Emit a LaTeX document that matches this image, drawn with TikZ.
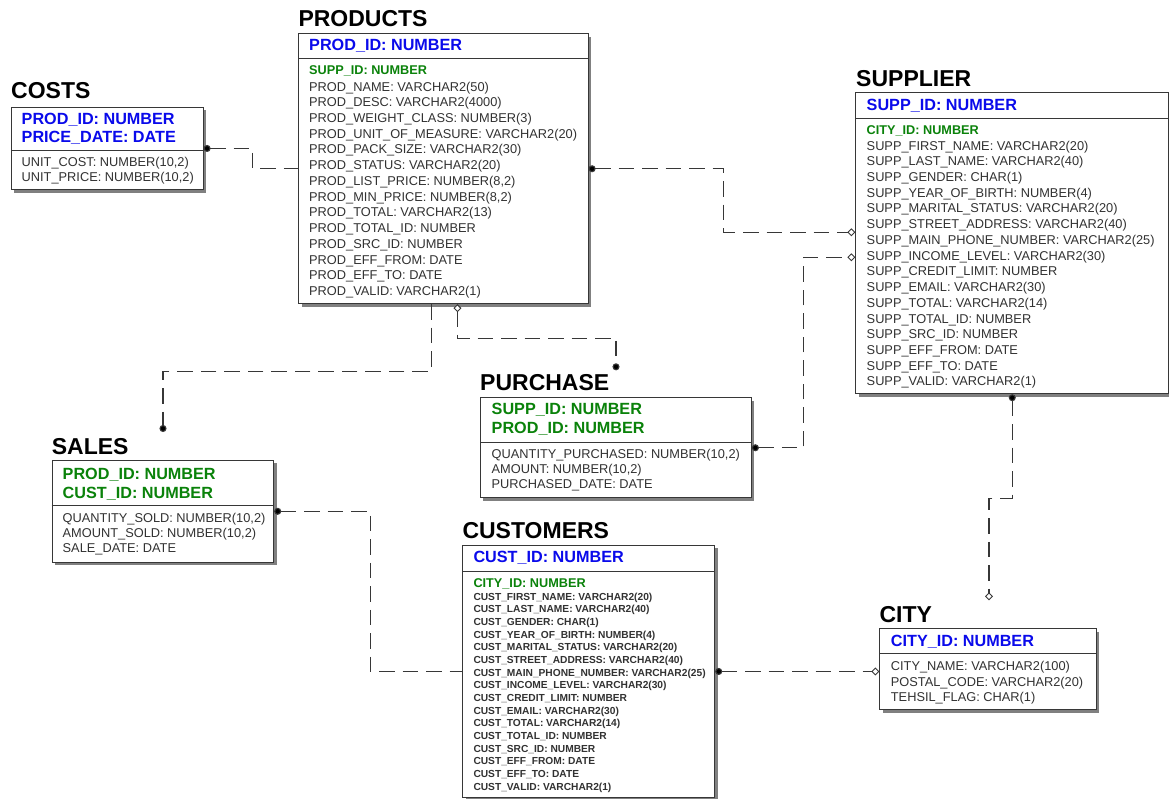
\documentclass[tikz,border=0pt]{standalone}
\usepackage{fontspec}
\setmainfont{Liberation Sans}
\usetikzlibrary{arrows.meta,shadows}

\definecolor{pkblue}{RGB}{10,10,235}
\definecolor{fkgreen}{RGB}{10,130,10}
\definecolor{attrgray}{RGB}{50,50,50}
\definecolor{edgegray}{RGB}{55,55,55}

\tikzset{
  title/.style={font=\fontsize{23}{23}\selectfont\bfseries, anchor=base west, inner sep=0pt},
  pk/.style={font=\fontsize{16.2}{16}\selectfont\bfseries, text=pkblue, anchor=base west, inner sep=0pt},
  fkpk/.style={pk, text=fkgreen},
  fk/.style={font=\fontsize{12.7}{13}\selectfont\bfseries, text=fkgreen, anchor=base west, inner sep=0pt},
  attr/.style={font=\fontsize{12.8}{13}\selectfont, text=attrgray, anchor=base west, inner sep=0pt},
  sattr/.style={font=\fontsize{10.2}{11}\selectfont\bfseries, text=attrgray, anchor=base west, inner sep=0pt},
  entity/.style={draw=edgegray, line width=0.9pt, fill=white, anchor=north west, inner sep=0pt,
    drop shadow={shadow xshift=3pt, shadow yshift=-3pt, fill=black!50, opacity=1}},
  divider/.style={draw=edgegray, line width=0.8pt},
  rel/.style={draw=edgegray, line width=1.1pt, dash pattern=on 15.5pt off 8pt},
  dot/.tip={Circle[length=7pt, fill=black]},
  dia/.tip={Diamond[open, length=8pt, width=8pt, fill=white, line width=0.9pt]}
}

\begin{document}
\begin{tikzpicture}[x=1pt,y=-1pt]
\useasboundingbox[fill=white] (0,0) rectangle (1169,798);

% ---------------- COSTS
\node[title] (costs-title) at (11,98.3) {COSTS};
\node[entity, minimum width=191.7pt, minimum height=82.6pt] (costs) at (11,106.7) {};
\draw[divider] ([yshift=-43.3pt]costs.north west) -- ([yshift=-43.3pt]costs.north east);
\node[pk] (costs-k1) at (21.5,124) {PROD\_ID: NUMBER};
\node[pk] (costs-k2) at (21.5,142.7) {PRICE\_DATE: DATE};
\foreach \t [count=\i from 0] in {{UNIT\_COST: NUMBER(10,2)},{UNIT\_PRICE: NUMBER(10,2)}}
  \node[attr] (costs-a\i) at (21.5,166+15.3*\i) {\t};

% ---------------- PRODUCTS
\node[title] (products-title) at (298.3,26.7) {PRODUCTS};
\node[entity, minimum width=289.4pt, minimum height=270pt] (products) at (298.3,33.3) {};
\draw[divider] ([yshift=-25pt]products.north west) -- ([yshift=-25pt]products.north east);
\node[pk] (products-k1) at (309,50.7) {PROD\_ID: NUMBER};
\node[fk] (products-f1) at (309,74) {SUPP\_ID: NUMBER};
\foreach \t [count=\i from 0] in {
  {PROD\_NAME: VARCHAR2(50)},
  {PROD\_DESC: VARCHAR2(4000)},
  {PROD\_WEIGHT\_CLASS: NUMBER(3)},
  {PROD\_UNIT\_OF\_MEASURE: VARCHAR2(20)},
  {PROD\_PACK\_SIZE: VARCHAR2(30)},
  {PROD\_STATUS: VARCHAR2(20)},
  {PROD\_LIST\_PRICE: NUMBER(8,2)},
  {PROD\_MIN\_PRICE: NUMBER(8,2)},
  {PROD\_TOTAL: VARCHAR2(13)},
  {PROD\_TOTAL\_ID: NUMBER},
  {PROD\_SRC\_ID: NUMBER},
  {PROD\_EFF\_FROM: DATE},
  {PROD\_EFF\_TO: DATE},
  {PROD\_VALID: VARCHAR2(1)}}
  \node[attr] (products-a\i) at (309,91+15.73*\i) {\t};

% ---------------- SUPPLIER
\node[title] (supplier-title) at (856,86.7) {SUPPLIER};
\node[entity, minimum width=313pt, minimum height=301pt] (supplier) at (855.3,92.3) {};
\draw[divider] ([yshift=-26pt]supplier.north west) -- ([yshift=-26pt]supplier.north east);
\node[pk] (supplier-k1) at (866.5,110.7) {SUPP\_ID: NUMBER};
\node[fk] (supplier-f1) at (866.5,134) {CITY\_ID: NUMBER};
\foreach \t [count=\i from 0] in {
  {SUPP\_FIRST\_NAME: VARCHAR2(20)},
  {SUPP\_LAST\_NAME: VARCHAR2(40)},
  {SUPP\_GENDER: CHAR(1)},
  {SUPP\_YEAR\_OF\_BIRTH: NUMBER(4)},
  {SUPP\_MARITAL\_STATUS: VARCHAR2(20)},
  {SUPP\_STREET\_ADDRESS: VARCHAR2(40)},
  {SUPP\_MAIN\_PHONE\_NUMBER: VARCHAR2(25)},
  {SUPP\_INCOME\_LEVEL: VARCHAR2(30)},
  {SUPP\_CREDIT\_LIMIT: NUMBER},
  {SUPP\_EMAIL: VARCHAR2(30)},
  {SUPP\_TOTAL: VARCHAR2(14)},
  {SUPP\_TOTAL\_ID: NUMBER},
  {SUPP\_SRC\_ID: NUMBER},
  {SUPP\_EFF\_FROM: DATE},
  {SUPP\_EFF\_TO: DATE},
  {SUPP\_VALID: VARCHAR2(1)}}
  \node[attr] (supplier-a\i) at (866.5,150+15.73*\i) {\t};

% ---------------- PURCHASE
\node[title] (purchase-title) at (480,390.7) {PURCHASE};
\node[entity, minimum width=271pt, minimum height=100pt] (purchase) at (480,397.3) {};
\draw[divider] ([yshift=-45pt]purchase.north west) -- ([yshift=-45pt]purchase.north east);
\node[fkpk] (purchase-k1) at (491.5,414) {SUPP\_ID: NUMBER};
\node[fkpk] (purchase-k2) at (491.5,433) {PROD\_ID: NUMBER};
\foreach \t [count=\i from 0] in {
  {QUANTITY\_PURCHASED: NUMBER(10,2)},
  {AMOUNT: NUMBER(10,2)},
  {PURCHASED\_DATE: DATE}}
  \node[attr] (purchase-a\i) at (491.5,458.3+15.2*\i) {\t};

% ---------------- SALES
\node[title] (sales-title) at (51.7,454.3) {SALES};
\node[entity, minimum width=221.6pt, minimum height=101.7pt] (sales) at (51.7,460) {};
\draw[divider] ([yshift=-45.7pt]sales.north west) -- ([yshift=-45.7pt]sales.north east);
\node[fkpk] (sales-k1) at (62.5,479.3) {PROD\_ID: NUMBER};
\node[fkpk] (sales-k2) at (62.5,498.3) {CUST\_ID: NUMBER};
\foreach \t [count=\i from 0] in {
  {QUANTITY\_SOLD: NUMBER(10,2)},
  {AMOUNT\_SOLD: NUMBER(10,2)},
  {SALE\_DATE: DATE}}
  \node[attr] (sales-a\i) at (62.5,522.7+15*\i) {\t};

% ---------------- CUSTOMERS
\node[title] (customers-title) at (462.3,538) {CUSTOMERS};
\node[entity, minimum width=252pt, minimum height=252pt] (customers) at (462.3,545) {};
\draw[divider] ([yshift=-26.7pt]customers.north west) -- ([yshift=-26.7pt]customers.north east);
\node[pk] (customers-k1) at (473.3,562.7) {CUST\_ID: NUMBER};
\node[fk] (customers-f1) at (473.3,587.3) {CITY\_ID: NUMBER};
\foreach \t [count=\i from 0] in {
  {CUST\_FIRST\_NAME: VARCHAR2(20)},
  {CUST\_LAST\_NAME: VARCHAR2(40)},
  {CUST\_GENDER: CHAR(1)},
  {CUST\_YEAR\_OF\_BIRTH: NUMBER(4)},
  {CUST\_MARITAL\_STATUS: VARCHAR2(20)},
  {CUST\_STREET\_ADDRESS: VARCHAR2(40)},
  {CUST\_MAIN\_PHONE\_NUMBER: VARCHAR2(25)},
  {CUST\_INCOME\_LEVEL: VARCHAR2(30)},
  {CUST\_CREDIT\_LIMIT: NUMBER},
  {CUST\_EMAIL: VARCHAR2(30)},
  {CUST\_TOTAL: VARCHAR2(14)},
  {CUST\_TOTAL\_ID: NUMBER},
  {CUST\_SRC\_ID: NUMBER},
  {CUST\_EFF\_FROM: DATE},
  {CUST\_EFF\_TO: DATE},
  {CUST\_VALID: VARCHAR2(1)}}
  \node[sattr] (customers-a\i) at (473.3,600+12.67*\i) {\t};

% ---------------- CITY
\node[title] (city-title) at (879.3,622.3) {CITY};
\node[entity, minimum width=216.4pt, minimum height=81pt] (city) at (879.3,628.3) {};
\draw[divider] ([yshift=-25pt]city.north west) -- ([yshift=-25pt]city.north east);
\node[pk] (city-k1) at (890.7,646) {CITY\_ID: NUMBER};
\foreach \t [count=\i from 0] in {
  {CITY\_NAME: VARCHAR2(100)},
  {POSTAL\_CODE: VARCHAR2(20)},
  {TEHSIL\_FLAG: CHAR(1)}}
  \node[attr] (city-a\i) at (890.7,670.7+15.3*\i) {\t};

% ---------------- relationships
\draw[rel, {dot}-] (costs.east) -- ++(49,0) |- (products.west);
\draw[rel, {dot}-{dia}] (products.east) -- ++(135,0) |- ([yshift=11pt]supplier.west);
\draw[rel, {dot}-{dia}] (purchase.east) -- ++(52,0) |- ([yshift=-14pt]supplier.west);
\draw[rel, {dia}-{dot}] ([xshift=14pt]products.south) -- ++(0,34)
  -| ([shift={(136pt,27pt)}]purchase.north west);
\draw[rel, -{dot}] ([xshift=-12pt]products.south) -- ++(0,67)
  -| ([shift={(111.3pt,28pt)}]sales.north west);
\draw[rel, {dot}-] (sales.east) -- ++(96,0) |- (customers.west);
\draw[rel, {dot}-{dia}] (customers.east) -- (city.west |- customers.east);
\draw[rel, {dot}-{dia}] (supplier.south) -- ++(0,104)
  -| ([shift={(109.7pt,28pt)}]city.north west);
\end{tikzpicture}
\end{document}
